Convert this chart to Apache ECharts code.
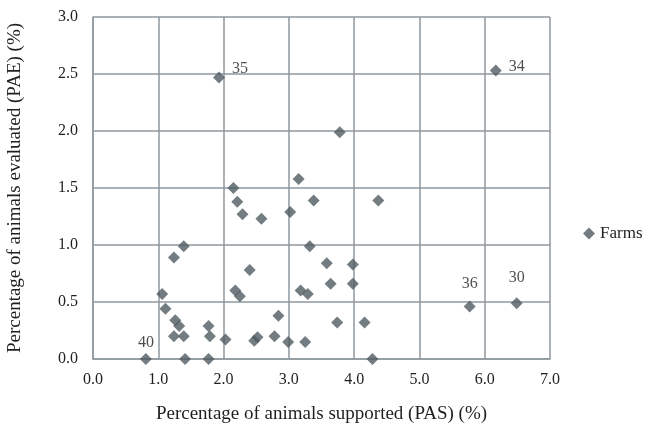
<!DOCTYPE html>
<html><head><meta charset="utf-8">
<script src="https://cdn.jsdelivr.net/npm/echarts@6/dist/echarts.min.js"></script>
<style>html,body{margin:0;padding:0;background:#fff}#c{width:652px;height:430px}</style>
</head><body><div id="c"></div>
<script>
const pasValues = [1.93,6.17,5.77,6.49,2.15,2.21,2.29,2.58,1.39,1.24,2.40,1.06,2.18,2.25,1.11,1.26,1.32,1.77,2.84,1.24,1.39,1.79,2.03,2.47,2.52,2.78,0.81,1.41,1.77,3.78,3.15,3.38,4.37,3.02,3.32,3.58,3.98,3.64,3.98,3.18,3.29,3.74,4.16,2.99,3.25,4.28];
const paeValues = [2.47,2.53,0.46,0.49,1.50,1.38,1.27,1.23,0.99,0.89,0.78,0.57,0.60,0.55,0.44,0.34,0.29,0.29,0.38,0.20,0.20,0.20,0.17,0.16,0.19,0.20,0.00,0.00,0.00,1.99,1.58,1.39,1.39,1.29,0.99,0.84,0.83,0.66,0.66,0.60,0.57,0.32,0.32,0.15,0.15,0.00];
const pointLabels = ['35','34','36','30','','','','','','','','','','','','','','','','','','','','','','','40','','','','','','','','','','','','','','','','','','',''];
const labelPos = {'35':'right','34':'right','36':'top','30':'top','40':'top'};
const labelOffset = {'35':[0,-9],'34':[0,-4],'36':[0,0],'30':[0,-2],'40':[0,7]};
const xTicks = [0,1,2,3,4,5,6,7];
const yTicks = [0,0.5,1,1.5,2,2.5,3];
const seriesName = 'Farms';

const font = '"Liberation Serif","Times New Roman",serif';
const gridColor = '#8f999f';
const pointColor = '#505b61';
const textColor = '#1f1f1f';

const data = pasValues.map((x,i)=>{
  const lab = pointLabels[i];
  const d = {value:[x,paeValues[i]]};
  if (lab) {
    d.label = {show:true, formatter:lab, position:labelPos[lab], distance: labelPos[lab]==='top'?9:7,
      offset:labelOffset[lab], fontFamily:font, fontSize:16, color:textColor};
  }
  return d;
});

const chart = echarts.init(document.getElementById('c'), null, {renderer:'canvas'});
chart.setOption({
  animation:false,
  backgroundColor:'#fff',
  grid:{left:93, right:102, top:17, bottom:71, containLabel:false, outerBoundsMode:'none'},
  xAxis:{type:'value', min:xTicks[0], max:xTicks[xTicks.length-1], interval:1,
    name:'Percentage of animals supported (PAS) (%)', nameLocation:'middle', nameGap:46,
    nameTextStyle:{fontFamily:font, fontSize:19, color:textColor},
    axisLine:{show:true, lineStyle:{color:gridColor, width:1.5}},
    axisTick:{show:false},
    axisLabel:{fontFamily:font, fontSize:16, color:textColor, margin:13, formatter:v=>v.toFixed(1)},
    splitLine:{show:true, lineStyle:{color:gridColor, width:1.5}}},
  yAxis:{type:'value', min:yTicks[0], max:yTicks[yTicks.length-1], interval:0.5,
    name:'Percentage of animals evaluated (PAE) (%)', nameLocation:'middle', nameGap:68,
    nameTextStyle:{fontFamily:font, fontSize:19, color:textColor},
    axisLine:{show:true, lineStyle:{color:gridColor, width:1.5}},
    axisTick:{show:false},
    axisLabel:{fontFamily:font, fontSize:16, color:textColor, margin:15, formatter:v=>v.toFixed(1)},
    splitLine:{show:true, lineStyle:{color:gridColor, width:1.5}}},
  legend:{show:true, orient:'vertical', left:578, top:220, itemWidth:12, itemHeight:12, itemGap:4,
    textStyle:{fontFamily:font, fontSize:17, color:textColor},
    data:[{name:seriesName, icon:'diamond'}]},
  series:[{name:seriesName, type:'scatter', symbol:'diamond', symbolSize:12,
    itemStyle:{color:pointColor}, data:data}]
});
</script></body></html>
